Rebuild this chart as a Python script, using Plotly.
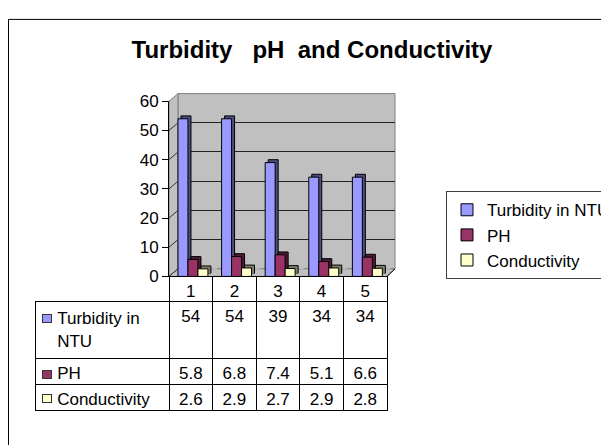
import plotly.graph_objs as go

W, H = 609, 445
PAGE_OFFSET = 8  # default body margin of the html page

categories = ['1', '2', '3', '4', '5']
turbidity = [54, 54, 39, 34, 34]
ph = [5.8, 6.8, 7.4, 5.1, 6.6]
conductivity = [2.6, 2.9, 2.7, 2.9, 2.8]
series_names = ['Turbidity in NTU', 'PH', 'Conductivity']
table_labels = ['\u00a0\u00a0\u00a0Turbidity in<br>\u00a0\u00a0\u00a0NTU', '\u00a0\u00a0\u00a0PH', '\u00a0\u00a0\u00a0Conductivity']
y_ticks = [0, 10, 20, 30, 40, 50, 60]

FONT = 'Liberation Sans, Arial, sans-serif'
face_colors = ['#9999FF', '#993366', '#FFFFCC']
side_colors = ['#4D4D80', '#4D1A33', '#80806A']
WALL = '#C0C0C0'


def px(x):
    return (x - PAGE_OFFSET) / W


def py(y):
    return 1 - (y - PAGE_OFFSET) / H


def path(points):
    return 'M' + ' L'.join(f'{px(x):.5f},{py(y):.5f}' for x, y in points) + ' Z'


series = [turbidity, ph, conductivity]
bar_w = 0.229
offsets = [-0.294, -0.065, 0.164]

fig = go.Figure()

# back wall subplot (xy) carries the grid
fig.add_trace(go.Bar(x=categories, y=[0] * 5, xaxis='x', yaxis='y', showlegend=False, hoverinfo='skip'))

# depth faces of the columns (x2y2), drawn under the fronts
for i, vals in enumerate(series):
    fig.add_trace(go.Bar(
        x=categories, y=vals, xaxis='x2', yaxis='y2',
        width=bar_w, offset=offsets[i],
        marker=dict(color=side_colors[i], line=dict(color='black', width=1)),
        showlegend=False, hoverinfo='skip',
    ))

# front faces (x3y3)
for i, (vals, name) in enumerate(zip(series, series_names)):
    fig.add_trace(go.Bar(
        x=categories, y=vals, xaxis='x3', yaxis='y3', name=name,
        width=bar_w, offset=offsets[i],
        marker=dict(color=face_colors[i], line=dict(color='black', width=1)),
    ))

# data table under the chart
fig.add_trace(go.Table(
    domain=dict(x=[px(35), px(387)], y=[0, py(279)]),
    columnwidth=[134] + [43.6] * 5,
    header=dict(
        values=[''] + categories,
        height=25,
        align='center',
        fill=dict(color=['rgba(0,0,0,0)'] + ['white'] * 5),
        line=dict(color=['rgba(0,0,0,0)'] + ['black'] * 5, width=1),
        font=dict(family=FONT, size=17, color='black'),
    ),
    cells=dict(
        values=[table_labels] + [[t, p, c] for t, p, c in zip(turbidity, ph, conductivity)],
        height=26,
        align=['left'] + ['center'] * 5,
        fill=dict(color='white'),
        line=dict(color='black', width=1),
        font=dict(family=FONT, size=17, color='black'),
    ),
))

axis_common = dict(range=[-0.5, 4.5], showticklabels=False, ticks='', showgrid=False, zeroline=False, fixedrange=True)
yrange = [0, 60]

fig.update_layout(
    width=W, height=H, autosize=False,
    margin=dict(l=0, r=0, t=0, b=0),
    paper_bgcolor='white',
    plot_bgcolor='rgba(0,0,0,0)',
    barmode='overlay',
    font=dict(family=FONT, size=16, color='black'),
    title=dict(
        text='Turbidity \u00a0\u00a0pH \u00a0and Conductivity',
        x=px(312), y=py(42), xanchor='center', yanchor='middle',
        xref='paper', yref='paper',
        font=dict(family=FONT, size=24, color='black', weight='bold'),
    ),
    xaxis=dict(domain=[px(178), px(395)], anchor='y', **axis_common),
    yaxis=dict(domain=[py(271), py(88)], anchor='x', range=yrange, dtick=10, showgrid=True,
               gridcolor='#222222', gridwidth=1, showticklabels=False, zeroline=False),
    xaxis2=dict(domain=[px(172), px(390)], anchor='y2', **axis_common),
    yaxis2=dict(domain=[py(276), py(93)], anchor='x2', range=yrange, showgrid=False,
                showticklabels=False, zeroline=False),
    xaxis3=dict(domain=[px(169), px(387)], anchor='y3', showline=True, linecolor='black', linewidth=1, **axis_common),
    yaxis3=dict(domain=[py(279), py(96)], anchor='x3', range=yrange, tickvals=y_ticks,
                showgrid=False, zeroline=False, showline=True, linecolor='black',
                ticks='outside', ticklen=6, tickcolor='black',
                tickfont=dict(family=FONT, size=17, color='black')),
    legend=dict(
        x=px(446), y=py(190), xanchor='left', yanchor='top',
        bordercolor='#404040', borderwidth=1, bgcolor='white',
        font=dict(family=FONT, size=17, color='black'),
        tracegroupgap=0,
    ),
)

shapes = []
# walls and floor of the 3-D box
shapes.append(dict(type='path', xref='paper', yref='paper', layer='below',
                   path=path([(178, 88), (395, 88), (395, 271), (178, 271)]),
                   fillcolor=WALL, line=dict(color='#808080', width=1)))
shapes.append(dict(type='path', xref='paper', yref='paper', layer='below',
                   path=path([(169, 279), (169, 96), (178, 88), (178, 271)]),
                   fillcolor=WALL, line=dict(color='#808080', width=1)))
shapes.append(dict(type='path', xref='paper', yref='paper', layer='below',
                   path=path([(169, 279), (178, 271), (395, 271), (387, 279)]),
                   fillcolor=WALL, line=dict(color='#808080', width=1)))
# outer chart border
shapes.append(dict(type='rect', xref='paper', yref='paper', x0=px(8.5), x1=1.05, y0=-0.05, y1=py(10.5),
                   line=dict(color='black', width=1), fillcolor='rgba(0,0,0,0)'))
# side wall grid lines running from the front axis back to the wall
for v in y_ticks:
    shapes.append(dict(type='line', xref='paper', yref='y3', x0=px(169), x1=px(178), y0=v, y1=v + 8 * 60 / 183,
                       line=dict(color='#333333', width=1)))
# floor edge on the right
shapes.append(dict(type='line', xref='paper', yref='paper', x0=px(387), x1=px(395), y0=py(279), y1=py(271),
                   line=dict(color='black', width=1)))
fig.update_layout(shapes=shapes)

# legend keys in front of the table's row labels
for col, yk in zip(face_colors, [323, 381, 407]):
    fig.add_annotation(xref='paper', yref='paper', x=px(47), y=py(yk), xanchor='center', yanchor='middle',
                       text='', showarrow=False, width=8, height=7, borderpad=0,
                       bgcolor=col, bordercolor='#333333', borderwidth=1)

fig.write_html("out.html")
